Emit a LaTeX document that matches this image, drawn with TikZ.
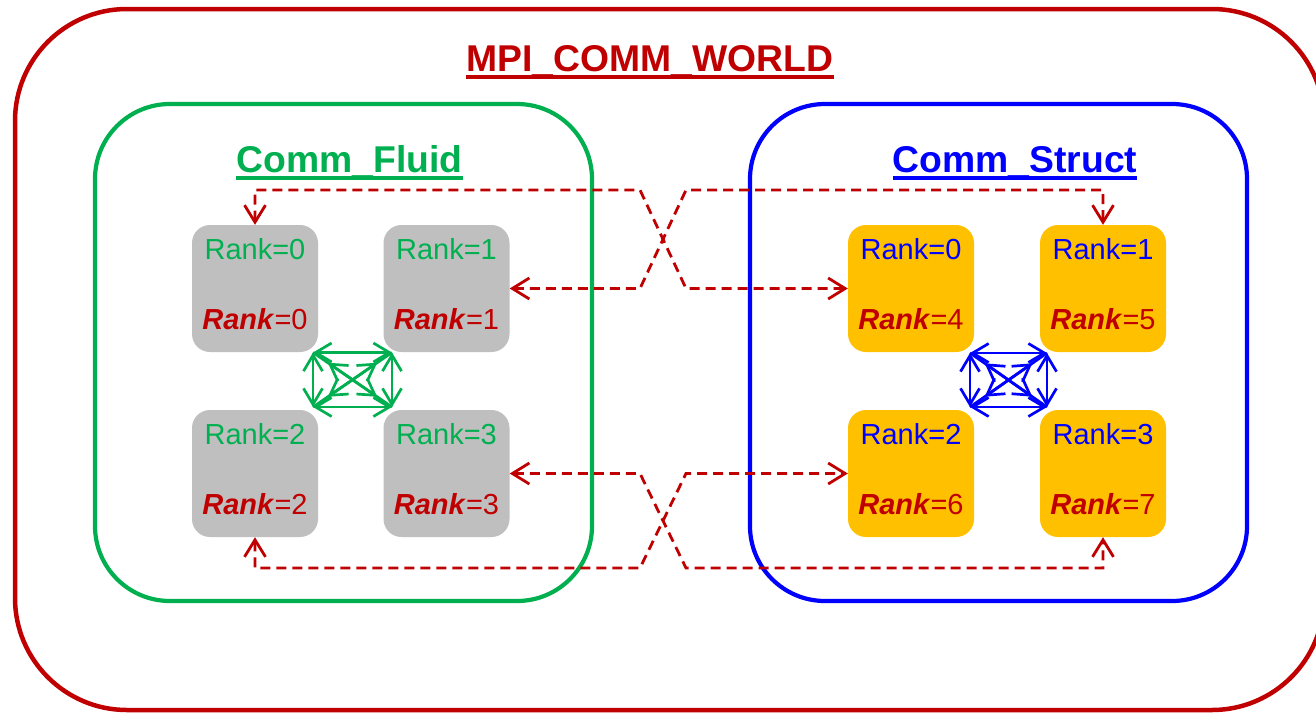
\documentclass[tikz,border=0pt]{standalone}
\usepackage{fontspec}
\setmainfont{Liberation Sans}
\usetikzlibrary{arrows.meta}
\definecolor{mred}{HTML}{C00000}
\definecolor{mgreen}{HTML}{00B050}
\definecolor{mblue}{HTML}{0000FF}
\definecolor{mgray}{HTML}{BFBFBF}
\definecolor{morange}{HTML}{FFC000}
\newcommand\mkrank[7]{%
  \node[rankbox, fill=#4] (#1) at (#2,#3) {};
  \node[ranktxt, text=#5] (#1t) at ([yshift=29.5pt]#1.center) {Rank=#6};
  \node[ranktxt, text=mred] (#1b) at ([yshift=-40.5pt]#1.center) {\textbf{\textit{Rank}}=#7};
}
\begin{document}
\begin{tikzpicture}[x=1pt,y=-1pt,
  commbox/.style={draw, line width=4.2pt, rounded corners=75pt, minimum width=497pt, minimum height=497pt, inner sep=0pt},
  rankbox/.style={rounded corners=18pt, minimum width=126pt, minimum height=127pt, inner sep=0pt},
  ranktxt/.style={font=\fontsize{29}{34}\selectfont, inner sep=0pt, anchor=base},
  titletxt/.style={font=\fontsize{37.3}{44}\selectfont\bfseries, inner sep=0pt, anchor=base},
  uline/.style={line width=3.5pt},
  link/.style={mred, line width=2.8pt, dash pattern=on 10pt off 6pt,
    {Straight Barb[length=17pt,width=21pt]}-{Straight Barb[length=17pt,width=21pt]}},
  intra/.style={line width=2.7pt,
    {Straight Barb[length=16pt,width=19pt]}-{Straight Barb[length=16pt,width=19pt]}},
  diag/.style={line width=2.7pt},
]
\clip (0,0) rectangle (1316,713);
\fill[white] (0,0) rectangle (1316,713);
% outer world box
\node[draw=mred, line width=4.5pt, rounded corners=112pt, minimum width=1309pt, minimum height=701pt, inner sep=0pt] (world) at (669.5,359.5) {};
\node[titletxt, text=mred] (tworld) at (650,71) {MPI\_COMM\_WORLD};
\draw[mred, uline] ([yshift=-6pt]tworld.base west) -- ([yshift=-6pt]tworld.base east);
% communicator boxes
\node[commbox, draw=mgreen] (fluid) at (343.5,352.5) {};
\node[commbox, draw=mblue] (struct) at (998.5,352.5) {};
\node[titletxt, text=mgreen] (tfluid) at (349.5,172) {Comm\_Fluid};
\draw[mgreen, uline] ([yshift=-6pt]tfluid.base west) -- ([yshift=-6pt]tfluid.base east);
\node[titletxt, text=mblue] (tstruct) at (1015,172) {Comm\_Struct};
\draw[mblue, uline] ([yshift=-6pt]tstruct.base west) -- ([yshift=-6pt]tstruct.base east);
% rank boxes
\mkrank{f0}{255}{288.5}{mgray}{mgreen}{0}{0}
\mkrank{f1}{446.5}{288.5}{mgray}{mgreen}{1}{1}
\mkrank{f2}{255}{473.5}{mgray}{mgreen}{2}{2}
\mkrank{f3}{446.5}{473.5}{mgray}{mgreen}{3}{3}
\mkrank{s0}{911}{288.5}{morange}{mblue}{0}{4}
\mkrank{s1}{1103}{288.5}{morange}{mblue}{1}{5}
\mkrank{s2}{911}{473.5}{morange}{mblue}{2}{6}
\mkrank{s3}{1103}{473.5}{morange}{mblue}{3}{7}
% intra-communicator arrows (fluid)
\coordinate (g00) at (313,352.5);
\coordinate (g01) at (392,352.5);
\coordinate (g10) at (313,407);
\coordinate (g11) at (392,407);
\begin{scope}[mgreen]
\draw[intra] (g00) -- (g01);
\draw[intra] (g10) -- (g11);
\draw[intra] (g00) -- (g10);
\draw[intra] (g01) -- (g11);
\draw[diag] (g00) -- (g11);
\draw[diag] (g01) -- (g10);
\draw[intra, shorten <=18pt, shorten >=18pt] (g00) -- (g11);
\draw[intra, shorten <=18pt, shorten >=18pt] (g01) -- (g10);
\end{scope}
% intra-communicator arrows (struct)
\coordinate (b00) at (970,353);
\coordinate (b01) at (1047,353);
\coordinate (b10) at (970,407);
\coordinate (b11) at (1047,407);
\begin{scope}[mblue]
\draw[intra] (b00) -- (b01);
\draw[intra] (b10) -- (b11);
\draw[intra] (b00) -- (b10);
\draw[intra] (b01) -- (b11);
\draw[diag] (b00) -- (b11);
\draw[diag] (b01) -- (b10);
\draw[intra, shorten <=18pt, shorten >=18pt] (b00) -- (b11);
\draw[intra, shorten <=18pt, shorten >=18pt] (b01) -- (b10);
\end{scope}
% inter-communicator links
\draw[link] (f0.north) |- (640,190) -- (686,288.5) -- (s0.west);
\draw[link] (f1.east) -- (640,288.5) -- (686,190) -| (s1.north);
\draw[link] (f3.east) -- (640,473.5) -- (686,568) -| (s3.south);
\draw[link] (f2.south) |- (640,568) -- (686,473.5) -- (s2.west);
\end{tikzpicture}
\end{document}
